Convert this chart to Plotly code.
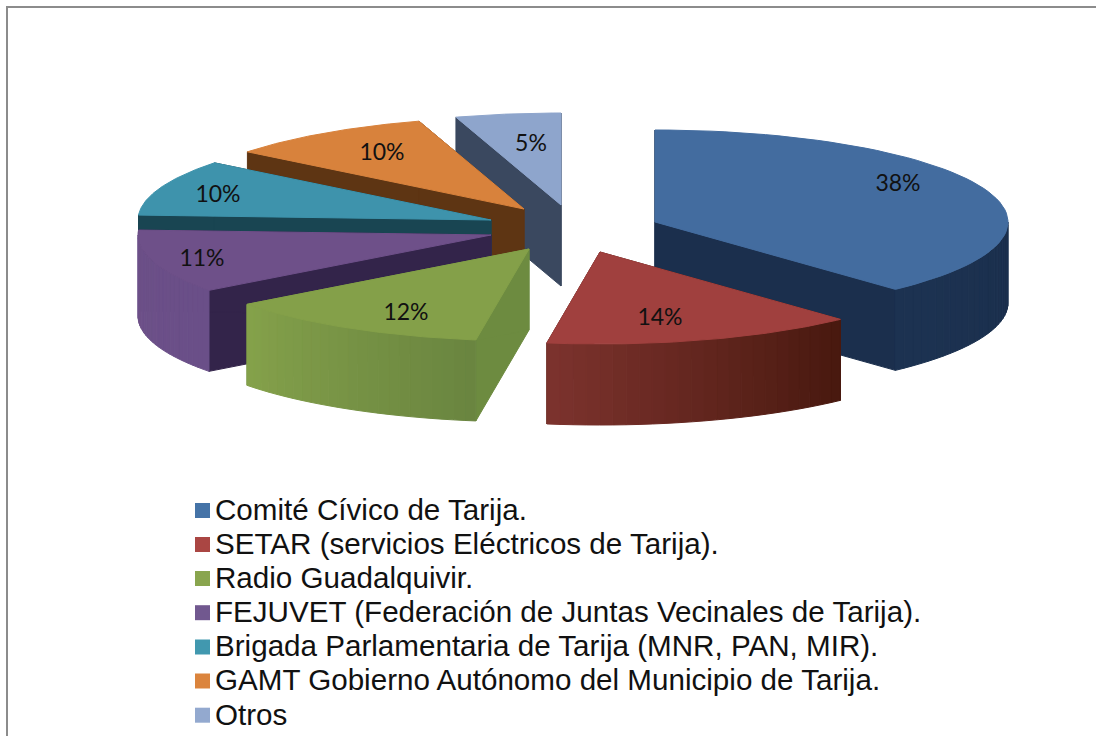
import math
import plotly.graph_objects as go

categories = [
    "Comité Cívico de Tarija.",
    "SETAR (servicios Eléctricos de Tarija).",
    "Radio Guadalquivir.",
    "FEJUVET (Federación de Juntas Vecinales de Tarija).",
    "Brigada Parlamentaria de Tarija (MNR, PAN, MIR).",
    "GAMT Gobierno Autónomo del Municipio de Tarija.",
    "Otros",
]
values = [38.0, 14.3, 12.3, 11.1, 9.8, 9.5, 4.8]

# colors
legend_colors = ["#4573a7", "#aa4643", "#89a54e", "#71588f", "#4198af", "#db843d", "#93a9cf"]
top_colors = ["#436c9f", "#a0403e", "#84a049", "#6e5089", "#3e93ac", "#d8823c", "#8ea5cc"]
cut_colors = ["#1b2f4d", "#4a1c14", "#6d8b40", "#33244a", "#194552", "#5e3513", "#3a485f"]
rim_from = ["#1b2f4d", "#48190f", "#6a8540", "#6a4f88", "#194552", "#5e3513", "#3a485f"]
rim_to = ["#1d3352", "#7d332e", "#85a24b", "#6e5189", "#194552", "#5e3513", "#3a485f"]

# 3d look: where each exploded slice has its tip, ellipse radii and wall height
tips = [(655, 222), (600, 252), (529, 249), (491, 235), (491, 220), (524, 209), (561, 205)]
RX, RY, DEPTH = 353, 92, 81
label_xy = [(898, 185), (660, 319), (406, 314), (202, 260), (218, 196), (382, 154), (531, 145)]
# hand placed legend because the native one can't do rows this tight
legend_y = [510.5, 544.5, 578.5, 612.7, 647, 681, 715.2]


def rim_point(tip, deg):
    a = math.radians(deg)
    return tip[0] + RX * math.sin(a), tip[1] - RY * math.cos(a)


def mix(c1, c2, t):
    r1, g1, b1 = int(c1[1:3], 16), int(c1[3:5], 16), int(c1[5:7], 16)
    r2, g2, b2 = int(c2[1:3], 16), int(c2[3:5], 16), int(c2[5:7], 16)
    return "rgb(%d,%d,%d)" % (r1 + (r2 - r1) * t, g1 + (g2 - g1) * t, b1 + (b2 - b1) * t)


def poly(fig, xs, ys, color):
    fig.add_trace(go.Scatter(x=xs + xs[:1], y=ys + ys[:1], mode="lines", fill="toself", fillcolor=color,
                             line=dict(color=color, width=1), hoverinfo="skip", showlegend=False))


fig = go.Figure()

# angles for each slice, clockwise from 12 o'clock
total = sum(values)
edges = [0]
for v in values:
    edges.append(edges[-1] + v / total * 360)

# back to front so the nearer slices cover the walls behind them (red sits over the blue wall)
for i in [6, 5, 4, 3, 2, 0, 1]:
    tip = tips[i]
    start, end = edges[i], edges[i + 1]
    p1 = rim_point(tip, start)
    p2 = rim_point(tip, end)

    # the two cut faces
    for p in (p1, p2):
        poly(fig, [tip[0], p[0], p[0], tip[0]], [tip[1], p[1], p[1] + DEPTH, tip[1] + DEPTH], cut_colors[i])

    # curved outer wall, only the front half is seen
    lo, hi = max(start, 90), min(end, 270)
    if hi > lo:
        n = 24
        for k in range(n):
            d1 = lo + (hi - lo) * k / n
            d2 = lo + (hi - lo) * (k + 1) / n
            a, b = rim_point(tip, d1), rim_point(tip, d2)
            color = mix(rim_from[i], rim_to[i], (k + 0.5) / n)
            poly(fig, [a[0], b[0], b[0], a[0]], [a[1], b[1], b[1] + DEPTH, a[1] + DEPTH], color)

    # top face
    steps = 60
    pts = [rim_point(tip, start + (end - start) * k / steps) for k in range(steps + 1)]
    poly(fig, [tip[0]] + [p[0] for p in pts], [tip[1]] + [p[1] for p in pts], top_colors[i])

# percent labels
fig.add_trace(go.Scatter(x=[p[0] for p in label_xy], y=[p[1] for p in label_xy], mode="text",
                         text=[f"{v:.0f}%" for v in values],
                         textfont=dict(family="Lato", size=23, color="#111111"),
                         hoverinfo="skip", showlegend=False))

# legend
fig.add_trace(go.Scatter(x=[202.5] * len(categories), y=legend_y, mode="markers",
                         marker=dict(symbol="square", size=15, color=legend_colors),
                         hoverinfo="skip", showlegend=False))
fig.add_trace(go.Scatter(x=[215] * len(categories), y=[y + 2 for y in legend_y], mode="text", text=categories,
                         textposition="middle right",
                         textfont=dict(family="Liberation Sans", size=29.6, color="#111111"),
                         hoverinfo="skip", showlegend=False))

fig.update_layout(
    width=1096,
    height=736,
    margin=dict(l=0, r=0, t=0, b=0),
    paper_bgcolor="white",
    plot_bgcolor="white",
    showlegend=False,
    xaxis=dict(range=[0, 1096], visible=False, fixedrange=True),
    yaxis=dict(range=[736, 0], visible=False, fixedrange=True),
    shapes=[
        dict(type="line", xref="x", yref="y", x0=6, x1=1096, y0=7, y1=7, line=dict(color="#8c8c8c", width=2)),
        dict(type="line", xref="x", yref="y", x0=7, x1=7, y0=6, y1=736, line=dict(color="#8c8c8c", width=2)),
    ],
)

# the page body has a default 8px margin, drop it so the chart fills the window
fig.write_html("out.html", config={"displayModeBar": False}, post_script="document.body.style.margin='0';")
